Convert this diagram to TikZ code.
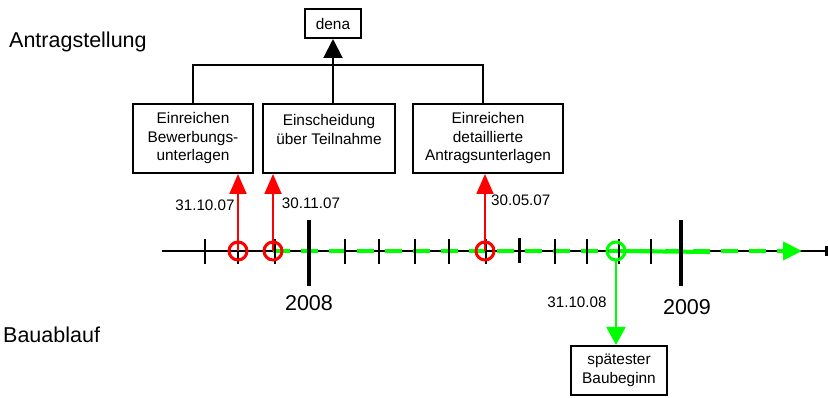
\documentclass[tikz,border=0pt]{standalone}
\usepackage{fontspec}
\setmainfont{Liberation Sans}
\usetikzlibrary{arrows.meta}
\definecolor{signalred}{RGB}{255,0,0}
\definecolor{signalgreen}{RGB}{0,255,0}
\tikzset{box/.style={draw, line width=2pt, align=center, inner sep=0pt, font=\fontsize{15.4}{18.5}\selectfont}}
\tikzset{datum/.style={inner sep=0pt, font=\fontsize{15.2}{18}\selectfont}}
\tikzset{jahr/.style={inner sep=0pt, font=\fontsize{21.5}{24}\selectfont}}
\tikzset{marker/.style={circle, draw, line width=3pt, minimum size=18pt, inner sep=0pt}}
\tikzset{tickmark/.style={line width=1.6pt}}

\begin{document}
\begin{tikzpicture}[x=1pt,y=-1pt]
\useasboundingbox (0,0) rectangle (828,398);

% Ueberschriften links
\node[jahr, anchor=west] (antragst) at (9,42) {Antragstellung};
\node[jahr, anchor=west] (bauabl) at (3,335) {Bauablauf};

% Kaesten
\node[box, minimum width=56pt, minimum height=29pt] (dena) at (333,23.5) {dena};
\node[box, minimum width=120pt, minimum height=69pt] (bewerb) at (193,138.5) {Einreichen\\Bewerbungs-\\unterlagen};
\node[box, minimum width=132pt, minimum height=69pt] (einsch) at (329,138.5) {Einscheidung\\über Teilnahme\\~};
\node[box, minimum width=150pt, minimum height=69pt] (antrag) at (488,138.5) {Einreichen\\detaillierte\\Antragsunterlagen};
\node[box, minimum width=96pt, minimum height=49pt] (baubeg) at (619,370.5) {spätester\\Baubeginn};

\coordinate (knot) at (333,65);
\draw[line width=1.6pt] (bewerb.north) |- (knot) -| ([xshift=-5pt]antrag.north);
\draw[line width=2pt, -{Triangle[length=19pt,width=19pt]}] (dena.south |- einsch.north) -- (dena.south);

% Zeitachse
\coordinate (tlstart) at (162,251);
\coordinate (tlend) at (828,251);
\draw[line width=1.6pt] (tlstart) -- (tlend);
\draw[line width=3pt] (826,246) -- (826,256);

% Bauzeitraum
\coordinate (pfeilende) at (802,251);
\coordinate (solidende) at (710,252);
\draw[signalgreen, line width=4pt, dash pattern=on 17pt off 11pt, -{Triangle[length=19pt,width=18pt]}] (273,251) -- (pfeilende);
\draw[signalgreen, line width=4pt] (616,251) -- (solidende);

\foreach \x in {205,238,275,345,379,415,449,486,555,587,619,651}
  \draw[tickmark] (\x,239) -- (\x,264);
\draw[line width=3pt] (519,238) -- (519,263);
\draw[line width=3.5pt] (309,220) -- (309,286);
\draw[line width=3.5pt] (681,220) -- (681,286);
\node[jahr] (j2008) at (309,303) {2008};
\node[jahr] (j2009) at (687,307) {2009};

% Termine
\node[marker, signalred] (m1) at (238,251) {};
\node[marker, signalred] (m2) at (273,251) {};
\node[marker, signalred] (m3) at (485,251) {};
\node[marker, signalgreen] (m4) at (616,251) {};

\draw[signalred, line width=2pt, -{Triangle[length=20pt,width=17pt]}] (m1.center) -- (m1 |- bewerb.south);
\draw[signalred, line width=2pt, -{Triangle[length=20pt,width=17pt]}] (m2.center) -- (m2 |- einsch.south);
\draw[signalred, line width=2pt, -{Triangle[length=20pt,width=17pt]}] (m3.center) -- (m3 |- antrag.south);
\draw[signalgreen, line width=2pt, -{Triangle[length=18pt,width=19pt]}] (m4.south) -- (m4 |- baubeg.north);

\node[datum] (d1) at (205,205) {31.10.07};
\node[datum] (d2) at (311,203) {30.11.07};
\node[datum, anchor=west] (d3) at (491,200) {30.05.07};
\node[datum] (d4) at (577,302) {31.10.08};
\end{tikzpicture}
\end{document}
